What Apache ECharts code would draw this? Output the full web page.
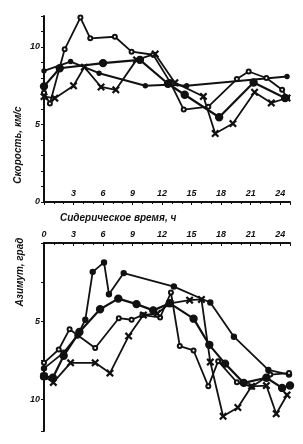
<!DOCTYPE html>
<html>
<head>
<meta charset="utf-8">
<script src="https://cdn.jsdelivr.net/npm/echarts@6/dist/echarts.min.js"></script>
<style>
    html, body { margin: 0; padding: 0; background: #fff; }
    #chart { width: 303px; height: 444px; }
</style>
</head>
<body>
<div id="chart"></div>
<script>
// сидерическое время, ч : значение

// скорость, км/с
const speedOpen = [[0, 7.05], [0.6, 6.35], [2.1, 9.85], [3.7, 11.9], [4.7, 10.56], [7.2, 10.66], [8.9, 9.7],
    [11.1, 9.5], [12.8, 7.75], [14.2, 5.96], [16.7, 6.15], [19.6, 7.93], [20.8, 8.42], [22.6, 8.0], [24.2, 7.24], [24.7, 6.73]];
const speedBig = [[0, 7.46], [1.6, 8.63], [6.0, 8.96], [9.75, 9.17], [12.6, 7.63], [14.3, 6.92], [17.8, 5.47],
    [21.3, 7.71], [24.5, 6.71]];
const speedDot = [[0, 8.46], [2.7, 9.06], [5.6, 8.31], [10.3, 7.5], [12.6, 7.56], [14.5, 7.5], [24.7, 8.1]];
const speedCross = [[0, 6.8], [1.1, 6.7], [3.0, 7.5], [4.1, 8.7], [5.8, 7.42], [7.3, 7.24], [9.4, 9.17], [11.3, 9.55],
    [13.3, 7.7], [16.2, 6.81], [17.4, 4.42], [19.2, 5.06], [21.4, 7.08], [23.1, 6.39], [24.7, 6.71]];

// азимут, град
const azDot = [[0, 8.0], [2.0, 7.0], [3.4, 5.9], [4.2, 4.9], [4.95, 1.84], [6.1, 1.24], [6.6, 3.27], [8.1, 1.92],
    [13.2, 2.78], [16.9, 3.8], [19.3, 5.98], [22.8, 8.1], [24.9, 8.4]];
const azBig = [[0, 8.5], [0.9, 8.6], [2.0, 7.2], [3.6, 5.68], [5.7, 4.23], [7.55, 3.55], [9.4, 3.9], [11.1, 4.3],
    [12.8, 3.85], [15.2, 4.83], [16.8, 6.5], [18.4, 7.7], [20.3, 8.93], [22.6, 8.6], [24.2, 9.25], [25, 9.1]];
const azOpen = [[0, 7.65], [1.5, 6.8], [2.6, 5.5], [5.2, 6.7], [7.6, 4.8], [8.9, 4.9], [10, 4.6], [11.8, 4.75],
    [12.9, 3.16], [13.8, 6.58], [15.2, 6.86], [16.7, 9.15], [17.7, 7.54], [19.6, 8.89], [21.1, 9.17], [23, 8.4], [24.9, 8.3]];
const azCross = [[0, 8.5], [0.95, 8.9], [2.7, 7.65], [5.2, 7.65], [6.7, 8.3], [8.6, 5.94], [10.1, 4.6], [11.5, 4.5],
    [12.8, 3.85], [14.8, 3.65], [16.0, 3.6], [16.9, 7.6], [18.2, 11.06], [19.7, 10.5], [21.1, 9.15], [22.6, 9.1],
    [23.6, 10.9], [24.7, 9.7]];

const speedTicks = [0, 5, 10];
const azTicks = [5, 10];
const hourTicks = [0, 3, 6, 9, 12, 15, 18, 21, 24];

const ink = '#111';
const labelFont = { color: ink, fontFamily: 'Liberation Sans', fontStyle: 'italic', fontWeight: 'bold', fontSize: 9 };
const crossPath = 'path://M0,1 L1,0 L5,4 L9,0 L10,1 L6,5 L10,9 L9,10 L5,6 L1,10 L0,9 L4,5 Z';

function line(data, idx, symbol, size, width) {
    return {
        type: 'line',
        xAxisIndex: idx,
        yAxisIndex: idx,
        data: data,
        symbol: symbol,
        symbolSize: size,
        showSymbol: true,
        animation: false,
        color: ink,
        lineStyle: { color: ink, width: width, type: 'solid' },
        itemStyle: { color: ink, borderColor: ink, borderWidth: 1.4 },
    };
}

let chart = echarts.init(document.getElementById('chart'));
let option = {
    backgroundColor: '#fff',
    animation: false,
    grid: [
        { left: 44, top: 16, width: 246, height: 186 },
        { left: 44, top: 243, width: 246, height: 188 },
    ],
    xAxis: [
        {
            gridIndex: 0, type: 'value', min: 0, max: 25, interval: 3, position: 'bottom',
            axisLine: { lineStyle: { color: ink, width: 2 } },
            axisTick: { show: true, length: 3, lineStyle: { color: ink } },
            minorTick: { show: true, splitNumber: 3, length: 2, lineStyle: { color: ink } },
            axisLabel: Object.assign({
                inside: true, margin: 4, showMaxLabel: false,
                formatter: (v) => (v > 0 && hourTicks.indexOf(v) >= 0 ? v : ''),
            }, labelFont),
            splitLine: { show: false },
        },
        {
            gridIndex: 1, type: 'value', min: 0, max: 25, interval: 3, position: 'top',
            axisLine: { lineStyle: { color: ink, width: 2 } },
            axisTick: { show: true, length: 3, inside: true, lineStyle: { color: ink } },
            minorTick: { show: true, splitNumber: 3, length: 2, lineStyle: { color: ink } },
            axisLabel: Object.assign({
                margin: 4, showMaxLabel: false,
                formatter: (v) => (hourTicks.indexOf(v) >= 0 ? v : ''),
            }, labelFont),
            splitLine: { show: false },
        },
    ],
    yAxis: [
        {
            gridIndex: 0, type: 'value', min: 0, max: 12, interval: 5,
            axisLine: { show: true, lineStyle: { color: ink, width: 2 } },
            axisTick: { show: true, length: 3, lineStyle: { color: ink } },
            minorTick: { show: true, splitNumber: 5, length: 3, lineStyle: { color: ink } },
            axisLabel: Object.assign({ margin: 4, formatter: (v) => (speedTicks.indexOf(v) >= 0 ? v : '') }, labelFont),
            splitLine: { show: false },
        },
        {
            gridIndex: 1, type: 'value', min: 0, max: 12, interval: 5, inverse: true,
            axisLine: { show: true, lineStyle: { color: ink, width: 2 } },
            axisTick: { show: true, length: 3, lineStyle: { color: ink } },
            minorTick: { show: true, splitNumber: 2, length: 3, lineStyle: { color: ink } },
            axisLabel: Object.assign({ margin: 4, formatter: (v) => (azTicks.indexOf(v) >= 0 ? v : '') }, labelFont),
            splitLine: { show: false },
        },
    ],
    graphic: [
        {
            type: 'text', x: 60, y: 218,
            style: Object.assign({ text: 'Сидерическое время, ч', textVerticalAlign: 'middle' }, labelFont, { fill: ink, fontSize: 10 }),
        },
        {
            type: 'text', x: 18, y: 145, rotation: Math.PI / 2,
            style: Object.assign({ text: 'Скорость, км/с', textAlign: 'center', textVerticalAlign: 'middle' }, labelFont, { fill: ink, fontSize: 10 }),
        },
        {
            type: 'text', x: 20, y: 272, rotation: Math.PI / 2,
            style: Object.assign({ text: 'Азимут, град', textAlign: 'center', textVerticalAlign: 'middle' }, labelFont, { fill: ink, fontSize: 10 }),
        },
    ],
    series: [
        line(speedOpen, 0, 'emptyCircle', 4, 1.8),
        line(speedBig, 0, 'circle', 7, 2.2),
        line(speedDot, 0, 'circle', 4, 2),
        line(speedCross, 0, crossPath, 6, 1.8),
        line(azDot, 1, 'circle', 5, 1.8),
        line(azBig, 1, 'circle', 7, 2.2),
        line(azOpen, 1, 'emptyCircle', 4, 1.8),
        line(azCross, 1, crossPath, 6, 1.8),
    ],
};
chart.setOption(option);
</script>
</body>
</html>
